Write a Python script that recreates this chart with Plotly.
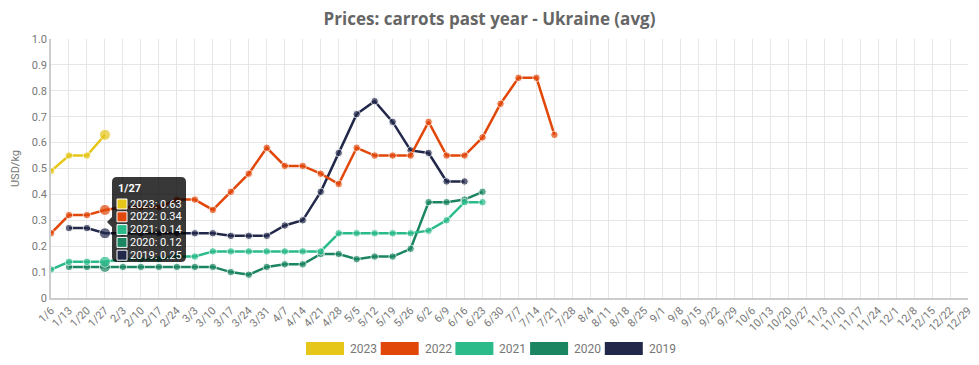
import plotly.graph_objects as go

weeks = ["1/6","1/13","1/20","1/27","2/3","2/10","2/17","2/24","3/3","3/10","3/17","3/24","3/31",
         "4/7","4/14","4/21","4/28","5/5","5/12","5/19","5/26","6/2","6/9","6/16","6/23","6/30",
         "7/7","7/14","7/21","7/28","8/4","8/11","8/18","8/25","9/1","9/8","9/15","9/22","9/29",
         "10/6","10/13","10/20","10/27","11/3","11/10","11/17","11/24","12/1","12/8","12/15","12/22","12/29"]

N = None
y2023 = [0.49, 0.55, 0.55, 0.63]
y2022 = [0.25, 0.32, 0.32, 0.34, 0.35, 0.35, 0.35, 0.38, 0.38, 0.34, 0.41, 0.48, 0.58, 0.51, 0.51, 0.48,
         0.44, 0.58, 0.55, 0.55, 0.55, 0.68, 0.55, 0.55, 0.62, 0.75, 0.85, 0.85, 0.63]
y2021 = [0.11, 0.14, 0.14, 0.14, 0.15, 0.15, 0.15, 0.16, 0.16, 0.18, 0.18, 0.18, 0.18, 0.18, 0.18, 0.18,
         0.25, 0.25, 0.25, 0.25, 0.25, 0.26, 0.30, 0.37, 0.37]
y2020 = [N, 0.12, 0.12, 0.12, 0.12, 0.12, 0.12, 0.12, 0.12, 0.12, 0.10, 0.09, 0.12, 0.13, 0.13, 0.17,
         0.17, 0.15, 0.16, 0.16, 0.19, 0.37, 0.37, 0.38, 0.41]
y2019 = [N, 0.27, 0.27, 0.25, 0.25, 0.25, 0.25, 0.25, 0.25, 0.25, 0.24, 0.24, 0.24, 0.28, 0.30, 0.41,
         0.56, 0.71, 0.76, 0.68, 0.57, 0.56, 0.45, 0.45]

series_names = ["2023", "2022", "2021", "2020", "2019"]
series_vals = [y2023, y2022, y2021, y2020, y2019]
colors = ["#E6C619", "#E2470A", "#2BBB8A", "#1A8560", "#22284A"]

y_ticks = [0, 0.1, 0.2, 0.3, 0.4, 0.5, 0.6, 0.7, 0.8, 0.9, 1.0]
y_ticktext = ["0", "0.1", "0.2", "0.3", "0.4", "0.5", "0.6", "0.7", "0.8", "0.9", "1.0"]

hover_idx = 3

fig = go.Figure()
for name, vals, col in reversed(list(zip(series_names, series_vals, colors))):
    sizes = [11 if i == hover_idx else 7.5 for i in range(len(vals))]
    fig.add_trace(go.Scatter(
        x=weeks[:len(vals)], y=vals, name=name, mode="lines+markers",
        line=dict(color=col, width=2.5), marker=dict(color=col, size=sizes),
        showlegend=False, connectgaps=False))

OFF = 8  # page body margin
W, H = 979 - OFF, 365 - OFF
L, R, T, B = 51 - OFF, 11, 39 - OFF, 67
pw, ph = W - L - R, H - T - B

def px(x):
    return (x - OFF - L) / pw

def py(y):
    return (H + OFF - B - y) / ph

shapes = []
annotations = []

# legend
leg_x0 = 306
for k, (name, col) in enumerate(zip(series_names, colors)):
    x0 = leg_x0 + k * 74.7
    shapes.append(dict(type="rect", xref="paper", yref="paper",
                       x0=px(x0), x1=px(x0 + 38), y0=py(355), y1=py(342),
                       fillcolor=col, line=dict(width=0)))
    annotations.append(dict(xref="paper", yref="paper", x=px(x0 + 42), y=py(348.5),
                            text=name, showarrow=False, xanchor="left", yanchor="middle",
                            font=dict(family="Roboto", size=12, color="#777777")))

# tooltip box (hover state at 1/27)
bx0, bx1, by0, by1, r = 112, 186, 177, 262, 5
def P(x, y):
    return f"{px(x):.5f},{py(y):.5f}"
path = (f"M {P(bx0+r, by0)} L {P(bx1-r, by0)} Q {P(bx1, by0)} {P(bx1, by0+r)} "
        f"L {P(bx1, by1-r)} Q {P(bx1, by1)} {P(bx1-r, by1)} L {P(bx0+r, by1)} "
        f"Q {P(bx0, by1)} {P(bx0, by1-r)} L {P(bx0, 227)} L {P(107, 222)} L {P(bx0, 217)} "
        f"L {P(bx0, by0+r)} Q {P(bx0, by0)} {P(bx0+r, by0)} Z")
shapes.append(dict(type="path", xref="paper", yref="paper", path=path,
                   fillcolor="rgba(0,0,0,0.78)", line=dict(width=0)))
annotations.append(dict(xref="paper", yref="paper", x=px(116), y=py(188),
                        text="<b>" + weeks[hover_idx] + "</b>", showarrow=False,
                        xanchor="left", yanchor="middle",
                        font=dict(family="Roboto", size=11, color="white")))
for k, (name, vals, col) in enumerate(zip(series_names, series_vals, colors)):
    yc = 204 + k * 12.8
    shapes.append(dict(type="rect", xref="paper", yref="paper",
                       x0=px(117), x1=px(127), y0=py(yc + 5), y1=py(yc - 5),
                       fillcolor=col, line=dict(color="white", width=1)))
    annotations.append(dict(xref="paper", yref="paper", x=px(128), y=py(yc),
                            text=f"{name}: {vals[hover_idx]:.2f}", showarrow=False,
                            xanchor="left", yanchor="middle",
                            font=dict(family="Roboto", size=11, color="white")))

fig.update_layout(
    width=W, height=H,
    margin=dict(l=L, r=R, t=T, b=B, autoexpand=False),
    paper_bgcolor="white", plot_bgcolor="white",
    title=dict(text="<b>Prices: carrots past year - Ukraine (avg)</b>",
               x=px(489.5), xref="paper", xanchor="center", y=1 - (19 - OFF) / H, yanchor="middle",
               font=dict(family="Open Sans", size=17, color="#666666")),
    xaxis=dict(type="category", categoryorder="array", categoryarray=weeks,
               range=[0, len(weeks) - 1], tickangle=-45,
               tickfont=dict(family="Roboto", size=11, color="#777777"),
               showgrid=True, gridcolor="#e6e6e6", gridwidth=1,
               showline=True, linecolor="#cccccc", linewidth=1.5,
               ticks="", ticklen=0),
    yaxis=dict(range=[0, 1.0], tickvals=y_ticks, ticktext=y_ticktext,
               tickfont=dict(family="Roboto", size=11, color="#777777"),
               showgrid=True, gridcolor="#e6e6e6", gridwidth=1,
               showline=True, linecolor="#cccccc", linewidth=1.5,
               zeroline=False, ticks="", ticklen=0,
               title=dict(text="USD/kg", standoff=10,
                          font=dict(family="Roboto", size=11, color="#777777"))),
    shapes=shapes, annotations=annotations,
    hovermode=False,
)

fig.write_html("out.html")
